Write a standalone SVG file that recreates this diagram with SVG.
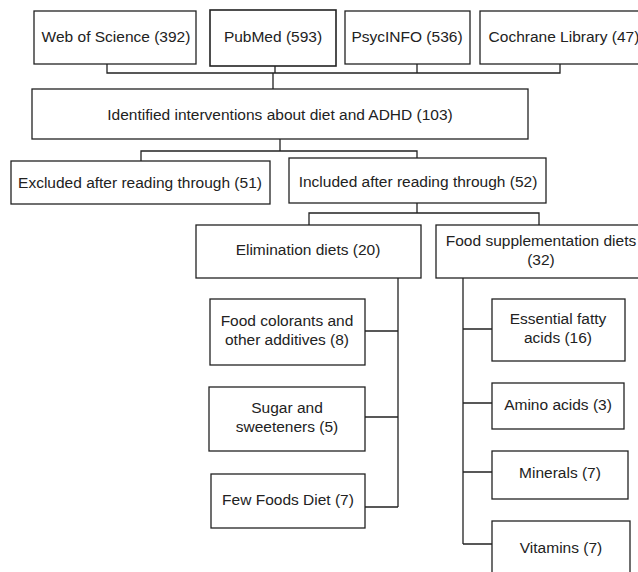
<svg xmlns="http://www.w3.org/2000/svg" width="638" height="572" viewBox="0 0 638 572">
<style>
.box{fill:#fff;stroke:#222;stroke-width:1.3}
.t{font-family:"Liberation Sans",Arial,sans-serif;font-size:15.5px;fill:#222;text-anchor:middle}
.c{fill:none;stroke:#222;stroke-width:1.3}
</style>
<rect width="638" height="572" fill="#fff"/>
<g id="connectors">
<path class="c" d="M107,64V73H560V64M275,66V73M417,64V73M273,73V89"/>
<path class="c" d="M280,139V151M141,161V151H417V158"/>
<path class="c" d="M417,203V213M309,225V213H539V225"/>
<path class="c" d="M398,278V507M365,331H398M365,417H398M365,507H398"/>
<path class="c" d="M463,278V544M463,329H492M463,403H492M463,472H492M463,544H492"/>
</g>
<g id="wos"><rect class="box" x="34" y="11" width="162" height="53"/><text class="t" x="116" y="42">Web of Science (392)</text></g>
<g id="pubmed"><rect class="box" x="210" y="10" width="126" height="56" style="stroke-width:1.6"/><text class="t" x="273" y="42">PubMed (593)</text></g>
<g id="psycinfo"><rect class="box" x="345" y="11" width="125" height="53"/><text class="t" x="407" y="42">PsycINFO (536)</text></g>
<g id="cochrane"><rect class="box" x="480" y="11" width="170" height="53"/><text class="t" x="564" y="42">Cochrane Library (47)</text></g>
<g id="identified"><rect class="box" x="32" y="89" width="496" height="50"/><text class="t" x="280" y="120">Identified interventions about diet and ADHD (103)</text></g>
<g id="excluded"><rect class="box" x="11" y="161" width="259" height="43"/><text class="t" x="140" y="188">Excluded after reading through (51)</text></g>
<g id="included"><rect class="box" x="289" y="158" width="257" height="45"/><text class="t" x="418" y="187">Included after reading through (52)</text></g>
<g id="elimination"><rect class="box" x="196" y="225" width="225" height="53"/><text class="t" x="308" y="255">Elimination diets (20)</text></g>
<g id="supplementation"><rect class="box" x="436" y="225" width="210" height="53"/><text class="t" x="541" y="246">Food supplementation diets</text><text class="t" x="541" y="265">(32)</text></g>
<g id="colorants"><rect class="box" x="210" y="299" width="155" height="66"/><text class="t" x="287" y="326">Food colorants and</text><text class="t" x="287" y="345">other additives (8)</text></g>
<g id="sugar"><rect class="box" x="209" y="387" width="156" height="64"/><text class="t" x="287" y="413">Sugar and</text><text class="t" x="287" y="432">sweeteners (5)</text></g>
<g id="fewfoods"><rect class="box" x="211" y="474" width="154" height="54"/><text class="t" x="288" y="505">Few Foods Diet (7)</text></g>
<g id="efa"><rect class="box" x="492" y="299" width="133" height="62"/><text class="t" x="558" y="324">Essential fatty</text><text class="t" x="558" y="343">acids (16)</text></g>
<g id="amino"><rect class="box" x="492" y="383" width="132" height="46"/><text class="t" x="558" y="410">Amino acids (3)</text></g>
<g id="minerals"><rect class="box" x="492" y="451" width="136" height="48"/><text class="t" x="560" y="478">Minerals (7)</text></g>
<g id="vitamins"><rect class="box" x="492" y="521" width="138" height="60"/><text class="t" x="561" y="553">Vitamins (7)</text></g>
</svg>
